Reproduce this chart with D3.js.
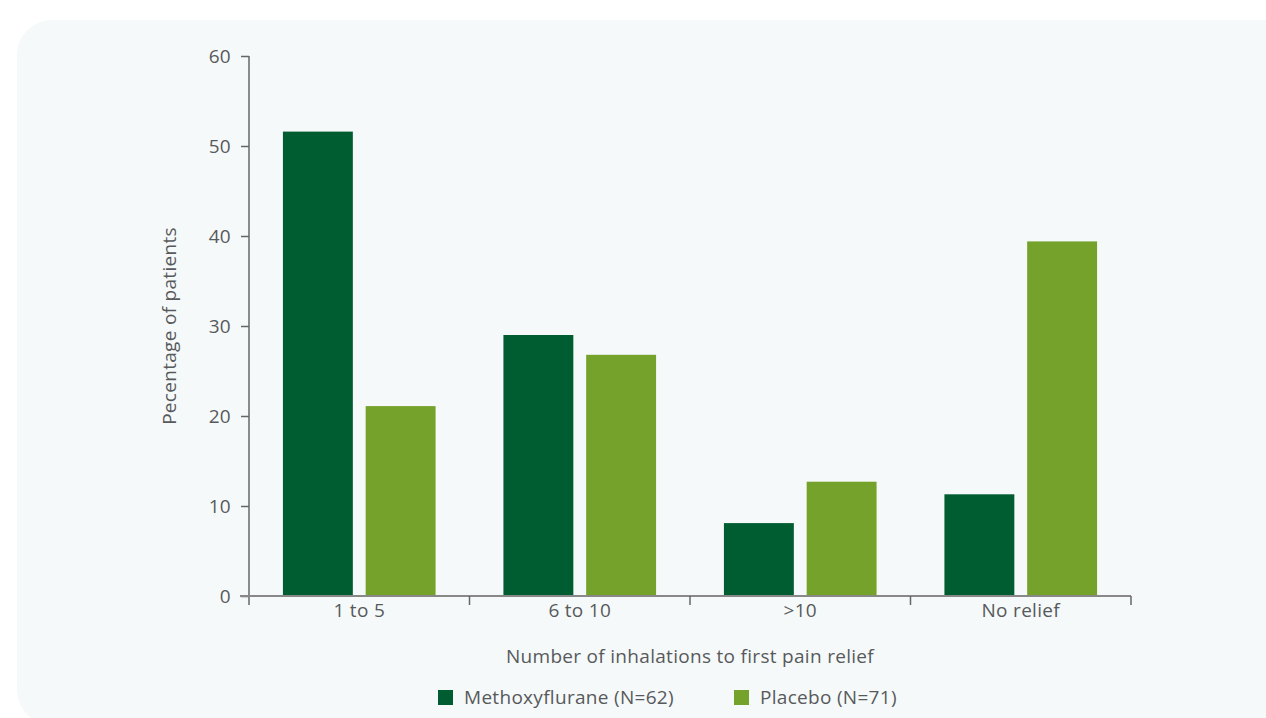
<!DOCTYPE html>
<html>
<head>
<meta charset="utf-8">
<script src="https://cdn.jsdelivr.net/npm/d3@7"></script>
<style>
  html, body { margin: 0; padding: 0; background: #ffffff; }
  svg { display: block; }
  text { font-family: "Open Sans", "Lato", sans-serif; fill: #58595b; letter-spacing: 0.3px; }
</style>
</head>
<body>
<svg id="chart" width="1266" height="718"></svg>
<script>
const categories = ["1 to 5", "6 to 10", ">10", "No relief"];
const seriesNames = ["Methoxyflurane (N=62)", "Placebo (N=71)"];
const methoxyflurane = [51.6, 29.0, 8.1, 11.3];
const placebo = [21.1, 26.8, 12.7, 39.4];
const yTicks = [0, 10, 20, 30, 40, 50, 60];
const colors = ["#005c31", "#75a22a"];
const FS = 19;

const svg = d3.select("#chart");
svg.append("rect")
  .attr("x", 17).attr("y", 20)
  .attr("width", 1320).attr("height", 705)
  .attr("rx", 35).attr("ry", 35)
  .attr("fill", "#f5f9fa");

const pLeft = 249, pRight = 1131, pTop = 56, pBottom = 596;

const x = d3.scaleBand().domain(categories).range([pLeft, pRight]).paddingInner(0).paddingOuter(0);
const xs = d3.scaleBand().domain([0, 1]).range([0, x.bandwidth()]).paddingInner(0.155).paddingOuter(0.41);
const y = d3.scaleLinear().domain([0, 60]).range([pBottom, pTop]);

const data = categories.map((c, i) => ({ c, vals: [methoxyflurane[i], placebo[i]] }));

const g = svg.append("g");
g.selectAll("g.cat").data(data).join("g")
  .attr("class", "cat")
  .attr("transform", d => `translate(${x(d.c)},0)`)
  .selectAll("rect").data(d => d.vals.map((v, k) => ({ v, k }))).join("rect")
  .attr("x", d => xs(d.k))
  .attr("width", xs.bandwidth())
  .attr("y", d => y(d.v))
  .attr("height", d => y(0) - y(d.v))
  .attr("fill", d => colors[d.k]);

// Y axis
const yAxis = svg.append("g")
  .attr("transform", `translate(${pLeft},0)`)
  .call(d3.axisLeft(y).tickValues(yTicks).tickSize(8).tickPadding(10).tickSizeOuter(0));
yAxis.select(".domain").attr("stroke", "#666").attr("stroke-width", 1.5).attr("d", `M0,${pTop}V${pBottom + 9}`);
yAxis.selectAll(".tick line").attr("stroke", "#666").attr("stroke-width", 1.5);
yAxis.selectAll(".tick text").attr("font-size", FS).style("fill", "#58595b");

// X axis
const xAxis = svg.append("g")
  .attr("transform", `translate(0,${pBottom})`)
  .call(d3.axisBottom(x).tickSize(0).tickPadding(8).tickSizeOuter(0));
xAxis.select(".domain").attr("stroke", "#888").attr("stroke-width", 2).attr("d", `M${pLeft - 9},0H${pRight}`);
xAxis.selectAll(".tick text").attr("font-size", FS).style("fill", "#58595b");
const boundaries = categories.map(c => x(c)).concat([x(categories[categories.length - 1]) + x.bandwidth()]).slice(1);
svg.append("g").selectAll("line").data(boundaries).join("line")
  .attr("x1", d => d).attr("x2", d => d)
  .attr("y1", pBottom).attr("y2", pBottom + 9)
  .attr("stroke", "#666").attr("stroke-width", 1.5);
svg.selectAll("g").attr("font-family", null);

// Axis titles
svg.append("text")
  .attr("transform", `translate(176,${(pTop + pBottom) / 2}) rotate(-90)`)
  .attr("text-anchor", "middle")
  .attr("font-size", FS)
  .text("Pecentage of patients");

svg.append("text")
  .attr("x", (pLeft + pRight) / 2).attr("y", 663)
  .attr("text-anchor", "middle")
  .attr("font-size", FS)
  .text("Number of inhalations to first pain relief");

// Legend
const legendX = [438, 734];
const lg = svg.append("g").selectAll("g").data(seriesNames).join("g")
  .attr("transform", (d, i) => `translate(${legendX[i]},690)`);
lg.append("rect").attr("width", 15).attr("height", 15).attr("fill", (d, i) => colors[i]);
lg.append("text").attr("x", 26).attr("y", 14).attr("font-size", FS).text(d => d);
</script>
</body>
</html>
